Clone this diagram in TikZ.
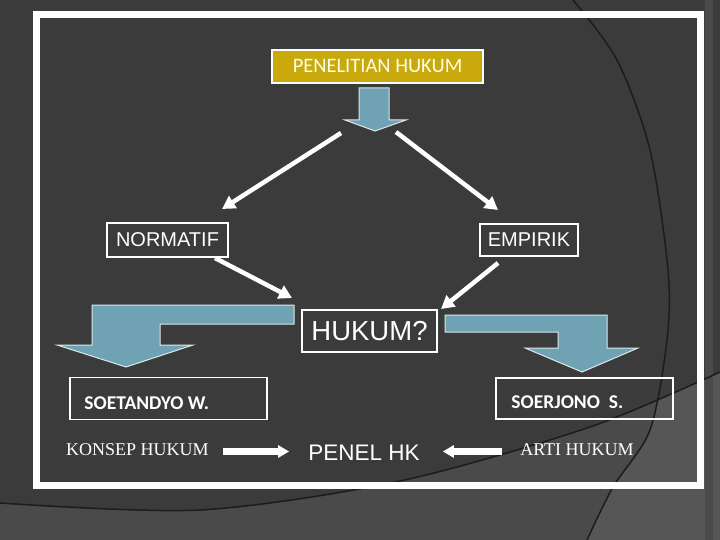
\documentclass[tikz,border=0pt]{standalone}
\usepackage{fontspec}
\setmainfont{Liberation Serif}
\newfontfamily\arialfont{Liberation Sans}
\newfontfamily\calibrifont{Carlito}
\usetikzlibrary{arrows.meta,calc}

\definecolor{slidebg}{HTML}{3B3B3B}
\definecolor{slidemid}{HTML}{4A4A4A}
\definecolor{slidelight}{HTML}{565656}
\definecolor{curveline}{HTML}{1C1C1C}
\definecolor{goldfill}{HTML}{C9A90C}
\definecolor{bluefill}{HTML}{6FA2B2}

\begin{document}
\begin{tikzpicture}[
  x=1pt, y=-1pt,
  box/.style={draw=white, line width=1.5pt, text=white, inner sep=0pt},
  titlebox/.style={box, fill=goldfill, text=yellow!8, font=\calibrifont\fontsize{20.5}{24}\selectfont},
  plainbox/.style={box, font=\arialfont\fontsize{20}{24}\selectfont},
  namebox/.style={box, minimum height=42pt},
  nametext/.style={text=white, inner sep=0pt, anchor=west, font=\calibrifont\bfseries\fontsize{19.5}{23}\selectfont},
  rowtext/.style={text=white, inner sep=0pt, font=\fontsize{18}{22}\selectfont},
  flow/.style={draw=white, line width=4.5pt, -{Triangle[length=13pt,width=14pt]}},
  fatflow/.style={draw=white, line width=7pt, -{Triangle[length=11pt,width=12pt]}},
  blockarrow/.style={fill=bluefill, draw=white!75!bluefill, line width=1pt},
]
\useasboundingbox (0,0) rectangle (720,540);

% slide background with its two curves
\fill[slidebg] (0,0) rectangle (720,540);
\fill[slidemid] plot[smooth] coordinates {(0,503) (200,510) (400,481) (590,427) (720,372)}
  -- (720,540) -- (0,540) -- cycle;
\begin{scope}
  \clip plot[smooth] coordinates {(0,503) (200,510) (400,481) (590,427) (720,372)}
    -- (720,540) -- (0,540) -- cycle;
  \fill[slidelight] plot[smooth] coordinates {(573,0) (617,60) (650,150) (668,270) (667,340) (650,430) (613,487) (587,540)}
    -- (720,540) -- (720,0) -- cycle;
\end{scope}
\fill[slidemid] (705,0) rectangle (713,540);
\draw[curveline, line width=1.5pt] plot[smooth] coordinates {(0,503) (200,510) (400,481) (590,427) (720,372)};
\draw[curveline, line width=1.5pt] plot[smooth] coordinates {(573,0) (617,60) (650,150) (668,270) (667,340) (650,430) (613,487) (587,540)};

% frame
\draw[white, line width=7pt] (36.5,14.5) rectangle (700.5,485);

% boxes
\node[titlebox, minimum width=211pt, minimum height=33pt] (pen) at (377.5,66.5) {PENELITIAN HUKUM};
\node[plainbox, minimum width=121pt, minimum height=34pt] (norm) at (167.5,240) {NORMATIF};
\node[plainbox, minimum width=98pt, minimum height=32pt] (emp) at (529,240) {EMPIRIK};
\node[box, font=\arialfont\fontsize{27.5}{31}\selectfont, minimum width=135pt, minimum height=42pt] (huk) at (369.5,331) {HUKUM?};
\node[namebox, minimum width=197pt] (soet) at (168.5,398.5) {};
\node[nametext] (soet-t) at ([xshift=15pt,yshift=-4.5pt]soet.west) {SOETANDYO W.};
\node[namebox, minimum width=177pt, minimum height=41pt] (soer) at (584.5,398.5) {};
\node[nametext] (soer-t) at ([xshift=16pt,yshift=-4pt]soer.west) {SOERJONO\ \ S.};

% bottom row
\node[rowtext] (konsep) at (137.5,449.5) {KONSEP HUKUM};
\node[rowtext, font=\arialfont\fontsize{22.5}{26}\selectfont] (penel) at (364,452.5) {PENEL HK};
\node[rowtext] (arti) at (577,449.5) {ARTI HUKUM};

% block arrows
\draw[blockarrow] (359,88) -- (389,88) -- (389,120) -- (406,120) -- (375,131) -- (345,120) -- (359,120) -- cycle;
\draw[blockarrow] (294,305) -- (92,305) -- (92,345) -- (57,345) -- (126,367) -- (193,345) -- (160,345) -- (160,324) -- (294,324) -- cycle;
\draw[blockarrow] (445,315) -- (607,315) -- (607,348) -- (638,348) -- (582,372) -- (525,348) -- (558,348) -- (558,332) -- (445,332) -- cycle;

% connectors
\coordinate (split-l) at (341,133);
\coordinate (split-r) at (396,132);
\coordinate (norm-in) at (222,209);
\coordinate (emp-in) at (498,210);
\coordinate (norm-out) at (215,258);
\coordinate (emp-out) at (498,263);
\coordinate (huk-l) at (292,298);
\coordinate (huk-r) at (441,309);
\draw[flow] (split-l) -- (norm-in);
\draw[flow] (split-r) -- (emp-in);
\draw[flow] (norm-out) -- (huk-l);
\draw[flow] (emp-out) -- (huk-r);
\draw[fatflow] ([xshift=14pt]konsep.east |- 0,451.5) -- ([xshift=-19pt]penel.west |- 0,451.5);
\draw[fatflow] ([xshift=-18pt]arti.west |- 0,451.5) -- ([xshift=23pt]penel.east |- 0,451.5);
\end{tikzpicture}
\end{document}
